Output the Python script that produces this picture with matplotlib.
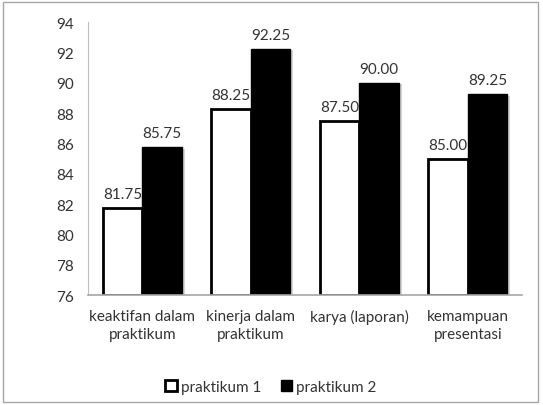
import matplotlib
matplotlib.use("Agg")
import matplotlib.pyplot as plt
import numpy as np
from matplotlib.patches import Rectangle

plt.rcParams['font.family'] = ['Lato', 'DejaVu Sans']

categories = ["keaktifan dalam\npraktikum", "kinerja dalam\npraktikum", "karya (laporan)", "kemampuan\npresentasi"]
praktikum1 = [81.75, 88.25, 87.50, 85.00]
praktikum2 = [85.75, 92.25, 90.00, 89.25]
series_names = ["praktikum 1", "praktikum 2"]
yticks = [76, 78, 80, 82, 84, 86, 88, 90, 92, 94]

fs = 11
tc = '#333333'
fig = plt.figure(figsize=(5.43, 4.06), dpi=100)
fig.patches.append(Rectangle((0.006, 0.007), 0.985, 0.985, transform=fig.transFigure,
                             fill=False, edgecolor='#a6a6a6', linewidth=1))
ax = fig.add_axes([88/543, 1-296/406, (522-88)/543, (296-23)/406])

x = np.arange(len(categories))
w = 0.365
# subtle shadows
for xs, vals in ((x - w/2, praktikum1), (x + w/2, praktikum2)):
    ax.bar(xs + 0.025, np.array(vals) - 76, w, bottom=76 - 0.1, color='#d5d5d5', zorder=1)
b1 = ax.bar(x - w/2, np.array(praktikum1) - 76, w, bottom=76, color='white', edgecolor='black',
            linewidth=2, label=series_names[0], zorder=2)
b2 = ax.bar(x + w/2, np.array(praktikum2) - 76, w, bottom=76, color='black', edgecolor='black',
            linewidth=1, label=series_names[1], zorder=2)

for xs, vals in ((x - w/2, praktikum1), (x + w/2, praktikum2)):
    for xi, v in zip(xs, vals):
        ax.text(xi, v + 0.45, f"{v:.2f}", ha='center', va='bottom', fontsize=fs, color=tc)

ax.set_ylim(76, 94)
ax.set_xlim(-0.5, 3.5)
ax.set_yticks(yticks)
ax.set_xticks(x)
ax.set_xticklabels(categories, fontsize=fs, color=tc, linespacing=1.35)
ax.tick_params(axis='y', length=0, pad=10, labelsize=fs, labelcolor=tc)
ax.tick_params(axis='x', length=0, pad=10)
for s in ['top', 'right']:
    ax.spines[s].set_visible(False)
ax.spines['left'].set_color('#bfbfbf')
ax.spines['bottom'].set_color('#a6a6a6')
ax.spines['bottom'].set_linewidth(1.2)

leg = fig.legend(handles=[b1, b2], labels=series_names, loc='center', bbox_to_anchor=(271/543, 1-388/406),
                 ncol=2, frameon=False, fontsize=fs, handlelength=0.75, handleheight=0.75,
                 handletextpad=0.25, columnspacing=1.3)
for t in leg.get_texts():
    t.set_color(tc)

fig.savefig("out.png", dpi=100)
